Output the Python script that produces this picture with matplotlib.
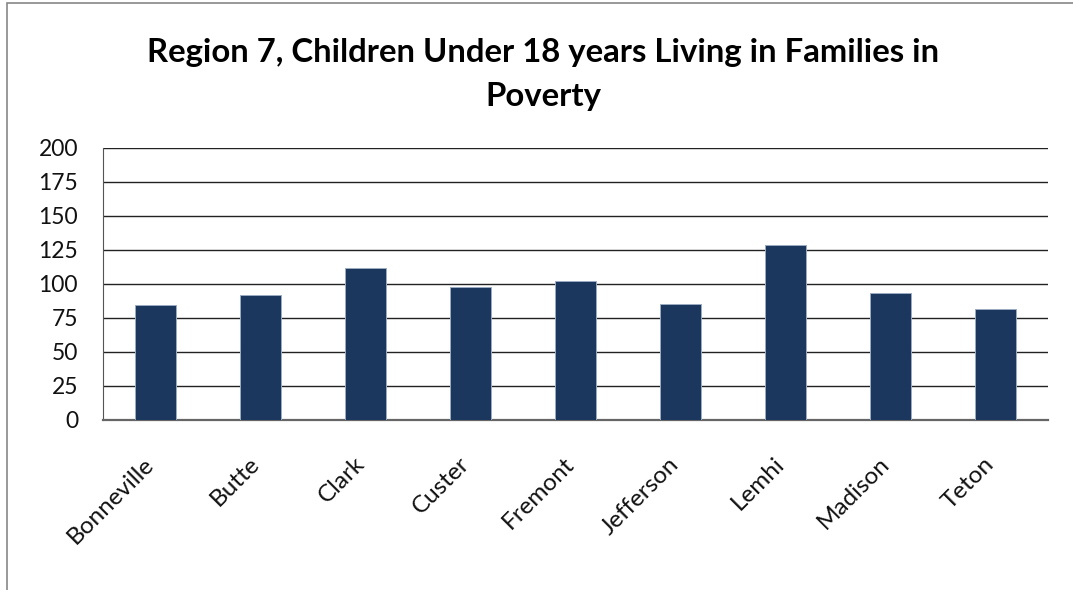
import matplotlib
matplotlib.use("Agg")
import matplotlib.pyplot as plt
import matplotlib.transforms as mtransforms
from matplotlib.patches import Rectangle

counties = ["Bonneville", "Butte", "Clark", "Custer", "Fremont",
            "Jefferson", "Lemhi", "Madison", "Teton"]
children = [84.6, 92.1, 111.5, 97.5, 102.2, 85.5, 128.4, 93.1, 81.9]
y_ticks = [0, 25, 50, 75, 100, 125, 150, 175, 200]

plt.rcParams["font.family"] = ["Lato", "DejaVu Sans"]

W, H = 1073, 590
fig = plt.figure(figsize=(W / 100, H / 100), dpi=100)
ax = fig.add_axes([103 / W, 1 - 420 / H, (1048 - 103) / W, (420 - 148) / H])

x = list(range(len(counties)))
ax.bar(x, children, width=0.39, color="#1b375e", edgecolor="#9aabc2",
       linewidth=0.7, zorder=3)

ax.set_xlim(-0.5, len(counties) - 0.5)
ax.set_ylim(0, 200)
ax.set_yticks(y_ticks)
ax.set_yticklabels([str(v) for v in y_ticks], fontsize=16.5, color="#111111")
ax.yaxis.grid(True, color="#222222", linewidth=1.0, zorder=0)
ax.tick_params(axis="y", length=0, pad=18)
ax.tick_params(axis="x", length=0, pad=24)

ax.set_xticks(x)
ax.set_xticklabels(counties, fontsize=17.5, rotation=45, ha="right", va="top",
                   rotation_mode="anchor", color="#111111")
# nudge the rotated labels so their ends sit just right of the bar centre
shift = mtransforms.ScaledTranslation(-12 / 100, 0, fig.dpi_scale_trans)
for lbl in ax.get_xticklabels():
    lbl.set_transform(lbl.get_transform() + shift)

for side in ["top", "right"]:
    ax.spines[side].set_visible(False)
ax.spines["left"].set_color("#555555")
ax.spines["bottom"].set_color("#666666")
ax.spines["bottom"].set_linewidth(1.6)

fig.text(0.5065, 1 - 62 / H, "Region 7, Children Under 18 years Living in Families in",
         ha="center", va="baseline", fontsize=23.7, fontweight="bold")
fig.text(0.5065, 1 - 106 / H, "Poverty",
         ha="center", va="baseline", fontsize=23.7, fontweight="bold")

fig.patches.append(Rectangle((7 / W, -0.1), 1.2, 1 - 3 / H + 0.1,
                             transform=fig.transFigure, fill=False,
                             edgecolor="#888888", linewidth=1.2))

fig.savefig("out.png", dpi=100)
